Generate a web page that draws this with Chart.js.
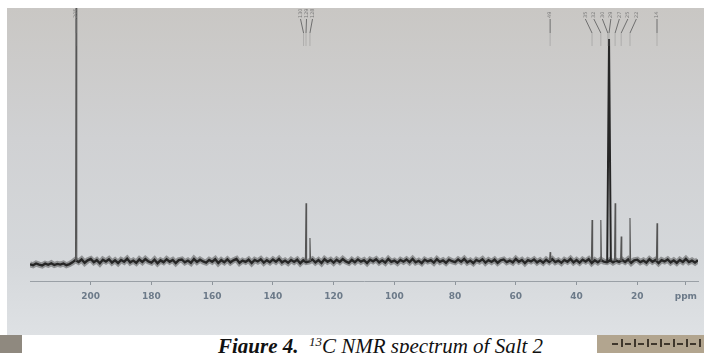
<!DOCTYPE html>
<html>
<head>
<meta charset="utf-8">
<script src="https://cdn.jsdelivr.net/npm/chart.js@4"></script>
<style>
    html, body { margin: 0; padding: 0; background: #fff; }
    #wrap { position: relative; width: 704px; height: 353px; overflow: hidden; }
    #caption {
        position: absolute; left: 22px; top: 335px; width: 575px; height: 18px;
        background: #fff; overflow: hidden;
    }
    #caption span {
        position: absolute; left: 196px; top: 1px; white-space: nowrap;
        font-family: "Liberation Serif", serif; font-style: italic; font-size: 21px; line-height: 21px;
        color: #111;
    }
    #caption sup { font-size: 13px; line-height: 0; vertical-align: 7px; }
</style>
</head>
<body>
<div id="wrap">
    <canvas id="nmr" width="704" height="353"></canvas>
    <div id="caption"><span><b>Figure 4.</b>&nbsp; <sup>13</sup>C NMR spectrum of Salt 2</span></div>
</div>
<script>
// axis, ppm runs right to left
const PPM_MAX = 220;
const PPM_MIN = 0;
const TICK_PPM = [200, 180, 160, 140, 120, 100, 80, 60, 40, 20, 4];
const PPM_LABEL_AT = 4;

// picked peaks (ppm) and their heights (tallest on scale = 100)
const PEAK_PPM = [204.8, 129.1, 127.8, 48.7, 34.9, 32.0, 29.3, 27.3, 25.3, 22.4, 13.5];
const PEAK_HEIGHT = [140, 26, 10.4, 4, 18.5, 18.5, 100, 26, 11, 19.4, 17];
const MAIN_PEAK_PPM = 29.3;

// peak-pick labels along the top, grouped as on the print
const LABEL_PPM = [204.8, 129.9, 129.1, 127.8, 48.7, 34.9, 32.0, 29.7, 29.3, 27.3, 25.3, 22.4, 13.5];
const LABEL_GROUP = [0, 1, 1, 1, 2, 3, 3, 3, 3, 3, 3, 3, 4];

// baseline noise, every 1 ppm from 220 down to 0
const BASELINE_STEP = 1;
const BASELINE = [
    -1.5, -1.9, -1.1, -1.6, -2.0, -1.2, -1.7, -1.0, -1.8, -1.3,
    -1.6, -1.1, -1.9, -1.4, -0.6, 0.5, -0.4, 0.7, -0.8, 0.3,
    0.9, -0.5, 0.4, -1.0, 0.6, -0.2, 0.8, -0.7, 0.3, -0.9,
    0.5, -0.3, 1.0, -0.6, 0.2, -0.8, 0.7, -0.4, 0.9, -0.2,
    -0.7, 0.6, -1.0, 0.3, -0.5, 0.8, -0.3, 0.5, -0.9, 0.4,
    0.7, -0.6, 0.2, -0.8, 0.9, -0.4, 0.6, -0.2, -0.7, 0.5,
    -0.3, 0.8, -0.9, 0.4, -0.5, 0.7, -0.6, 0.3, 0.9, -0.8,
    0.2, -0.4, 0.6, -0.9, 0.5, -0.2, 0.8, -0.7, 0.4, -0.5,
    0.7, -0.3, 0.9, -0.6, 0.2, -0.8, 0.5, -0.4, 0.6, -1.0,
    0.3, -0.5, -0.2, 0.7, -0.6, 0.4, -0.9, 0.8, -0.3, 0.5,
    -0.7, 0.6, -0.4, 0.9, -0.2, -0.8, 0.5, -0.5, 0.7, -0.3,
    0.4, -0.9, 0.6, -0.1, 0.8, -0.6, 0.3, -0.7, 0.9, -0.4,
    0.2, -0.8, 0.5, -0.3, 0.7, -0.5, 0.9, -0.6, 0.1, -0.9,
    0.6, -0.2, 0.4, -0.7, 0.8, -0.4, 0.3, -0.8, 0.6, -0.1,
    -0.5, 0.7, -0.3, 0.9, -0.6, 0.2, -0.9, 0.5, -0.2, 0.8,
    -0.7, 0.4, -0.4, 0.6, -0.8, 0.3, 0.7, -0.5, 0.2, -0.6,
    0.9, -0.3, 0.5, -0.9, 0.4, -0.2, 0.7, -0.6, 0.3, -0.7,
    0.6, -0.4, 0.8, -0.5, 0.2, -0.8, 0.5, -0.3, 0.9, -0.6,
    0.4, -0.7, 0.6, -0.2, 0.8, -0.9, 0.3, -0.6, 0.5, -0.3,
    -0.5, 0.3, -0.6, 0.2, -0.4, 0.5, -0.4, 0.7, -0.8, 0.3,
    0.6, -0.5, 0.2, -0.7, 0.8, -0.3, 0.5, -0.9, 0.4, -0.2,
    0.7, -0.6, 0.3, -0.8, 0.5, -0.4, 0.9, -0.5, 0.2, -0.7,
    0.4
];

function baselinePoints() {
    return BASELINE.map((v, i) => ({x: PPM_MAX - i * BASELINE_STEP, y: v}));
}

function peakPoints(main) {
    let pts = [];
    PEAK_PPM.forEach(function (p, i) {
        if ((p === MAIN_PEAK_PPM) !== main) {
            return;
        }
        let w = main ? 0.6 : 0.2;
        pts.push({x: p + w, y: 0});
        pts.push({x: p, y: PEAK_HEIGHT[i]});
        pts.push({x: p - w, y: 0});
        pts.push({x: p - w, y: null});
    });
    return pts;
}

// the photographed paper behind the plot
const photoBackground = {
    id: "photoBackground",
    beforeDraw(chart) {
        let ctx = chart.ctx;
        ctx.save();
        ctx.fillStyle = "#ffffff";
        ctx.fillRect(0, 0, 704, 353);

        let g = ctx.createLinearGradient(0, 8, 0, 335);
        g.addColorStop(0, "#c9c7c4");
        g.addColorStop(0.4, "#d0d1d3");
        g.addColorStop(0.78, "#d5d8db");
        g.addColorStop(1, "#dee1e4");
        ctx.fillStyle = g;
        ctx.fillRect(7, 8, 697, 327);

        // corners of the page below
        ctx.fillStyle = "#8f897f";
        ctx.fillRect(0, 335, 22, 18);
        ctx.fillStyle = "#b2a58f";
        ctx.fillRect(597, 335, 107, 18);
        ctx.fillStyle = "#3f372c";
        for (let x = 612; x < 700; x += 13) {
            ctx.fillRect(x, 343, 6, 2);
            ctx.fillRect(x + 9, 339, 2, 8);
        }
        ctx.restore();
    }
};

const peakLabels = {
    id: "peakLabels",
    afterDatasetsDraw(chart) {
        let ctx = chart.ctx;
        let xs = chart.scales.x;
        ctx.save();

        // spread the labels of each group side by side
        let groups = {};
        LABEL_GROUP.forEach((g, i) => { (groups[g] = groups[g] || []).push(i); });
        let labelX = [];
        Object.keys(groups).forEach(function (g) {
            let idx = groups[g];
            let centre = idx.reduce((s, i) => s + xs.getPixelForValue(LABEL_PPM[i]), 0) / idx.length;
            let gap = idx.length > 3 ? 8.5 : 6;
            idx.forEach(function (i, k) {
                labelX[i] = centre + (k - (idx.length - 1) / 2) * gap;
            });
        });

        LABEL_PPM.forEach(function (p, i) {
            let px = xs.getPixelForValue(p);
            let lx = labelX[i];

            ctx.strokeStyle = "#6f6f6f";
            ctx.lineWidth = 1;
            ctx.beginPath();
            ctx.moveTo(lx, 19);
            ctx.lineTo(px, 33);
            ctx.stroke();

            ctx.strokeStyle = "rgba(120,120,120,0.35)";
            ctx.beginPath();
            ctx.moveTo(px, 33);
            ctx.lineTo(px, 46);
            ctx.stroke();

            ctx.translate(lx, 18);
            ctx.rotate(-Math.PI / 2);
            ctx.fillStyle = "#7a7a7a";
            ctx.font = "5px 'DejaVu Sans'";
            ctx.textAlign = "left";
            ctx.textBaseline = "middle";
            ctx.fillText(p.toFixed(0), 0, 0);
            ctx.setTransform(1, 0, 0, 1, 0, 0);
        });
        ctx.restore();
    }
};

function generateSpectrumConfig() {
    return {
        type: "line",
        data: {
            datasets: [
                {
                    label: "main peak",
                    data: peakPoints(true),
                    borderColor: "#262626",
                    borderWidth: 2,
                    pointRadius: 0,
                    spanGaps: false,
                },
                {
                    label: "peaks",
                    data: peakPoints(false),
                    borderColor: "#555555",
                    borderWidth: 1.1,
                    pointRadius: 0,
                    spanGaps: false,
                },
                {
                    label: "baseline",
                    data: baselinePoints(),
                    borderColor: "#262626",
                    borderWidth: 2.4,
                    pointRadius: 0,
                },
                {
                    label: "baseline fuzz",
                    data: baselinePoints(),
                    borderColor: "rgba(50,50,50,0.42)",
                    borderWidth: 6,
                    pointRadius: 0,
                },
            ]
        },
        options: {
            responsive: false,
            animation: false,
            layout: {
                padding: {left: 30, right: 6, top: 8, bottom: 0}
            },
            scales: {
                x: {
                    type: "linear",
                    reverse: true,
                    min: PPM_MIN,
                    max: PPM_MAX,
                    afterBuildTicks: function (scale) {
                        scale.ticks = TICK_PPM.map(v => ({value: v}));
                    },
                    afterFit: function (scale) {
                        scale.height = 72;
                    },
                    grid: {
                        drawOnChartArea: false,
                        drawTicks: true,
                        tickLength: 4,
                        color: "#8d949b",
                    },
                    border: {
                        color: "#9aa0a6",
                        width: 1,
                    },
                    ticks: {
                        padding: 6,
                        autoSkip: false,
                        maxRotation: 0,
                        color: "#6c7a89",
                        font: {
                            size: 9,
                            family: "DejaVu Sans",
                            weight: "bold",
                        },
                        callback: function (value) {
                            return value === PPM_LABEL_AT ? "ppm" : value;
                        }
                    }
                },
                y: {
                    display: false,
                    min: -9,
                    max: 114,
                }
            },
            plugins: {
                legend: {display: false},
                tooltip: {enabled: false},
            }
        },
        plugins: [photoBackground, peakLabels]
    };
}

new Chart(document.getElementById("nmr"), generateSpectrumConfig());
</script>
</body>
</html>
